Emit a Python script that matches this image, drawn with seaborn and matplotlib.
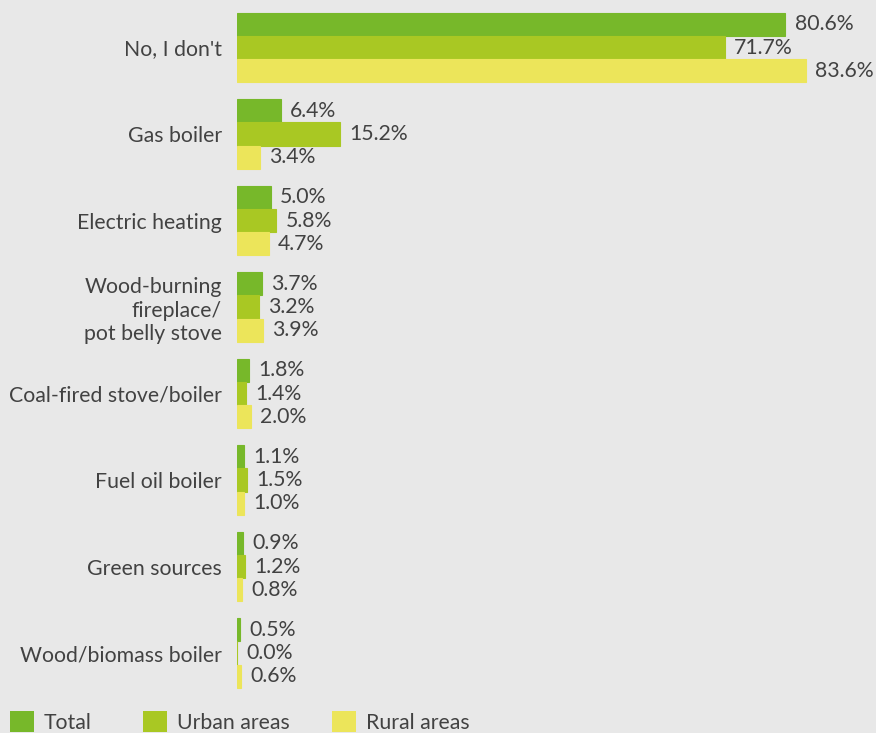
import matplotlib
matplotlib.use("Agg")
import matplotlib.pyplot as plt
import seaborn as sns
import pandas as pd

categories = [
    "No, I don't",
    "Gas boiler",
    "Electric heating",
    "Wood-burning\nfireplace/\npot belly stove",
    "Coal-fired stove/boiler",
    "Fuel oil boiler",
    "Green sources",
    "Wood/biomass boiler",
]
series = ["Total", "Urban areas", "Rural areas"]
total = [80.6, 6.4, 5.0, 3.7, 1.8, 1.1, 0.9, 0.5]
urban = [71.7, 15.2, 5.8, 3.2, 1.4, 1.5, 1.2, 0.0]
rural = [83.6, 3.4, 4.7, 3.9, 2.0, 1.0, 0.8, 0.6]

colors = ["#77b82a", "#a9c823", "#ece55a"]
bg = "#e8e8e8"
txt = "#424242"
fs = 15.3

df = pd.DataFrame({
    "category": categories * 3,
    "series": [s for s in series for _ in categories],
    "value": total + urban + rural,
})

sns.set_theme(style="white")
plt.rcParams["font.family"] = ["Lato", "DejaVu Sans"]

fig = plt.figure(figsize=(8.76, 7.33), dpi=100, facecolor=bg)
ax = fig.add_axes([0.2705, 0.0501, 0.7295, 0.9441], facecolor=bg)

sns.barplot(data=df, y="category", x="value", hue="series", order=categories,
            hue_order=series, palette=colors, orient="h", width=0.8,
            saturation=1, ax=ax, legend=False)

for container in ax.containers:
    for p in container:
        p.set_edgecolor(p.get_facecolor())
        p.set_linewidth(0.8)
    ax.bar_label(container, fmt="%.1f%%", padding=6.5, fontsize=fs, color=txt)

ax.set_xlim(0, 93.9)
ax.set_ylim(7.5, -0.5)
ax.set_xlabel("")
ax.set_ylabel("")
ax.set_xticks([])
ax.tick_params(axis="y", length=0, pad=11, labelsize=fs, labelcolor=txt)
for lab in ax.get_yticklabels():
    lab.set_multialignment("right")
    lab.set_linespacing(1.2)
for s in ax.spines.values():
    s.set_visible(False)

# one legend entry per series, each anchored at its own x position
legend_x = [0.0114, 0.1632, 0.379]
for c, name, x in zip(colors, series, legend_x):
    h = plt.Rectangle((0, 0), 1, 1, facecolor=c, edgecolor="none")
    leg = fig.legend([h], [name], loc="lower left", bbox_to_anchor=(x, 0.0),
                     frameon=False, fontsize=fs, handlelength=1.15,
                     handleheight=1.15, handletextpad=0.45,
                     borderaxespad=0, borderpad=0)
    for t in leg.get_texts():
        t.set_color(txt)

fig.savefig("out.png", dpi=100, facecolor=bg)
